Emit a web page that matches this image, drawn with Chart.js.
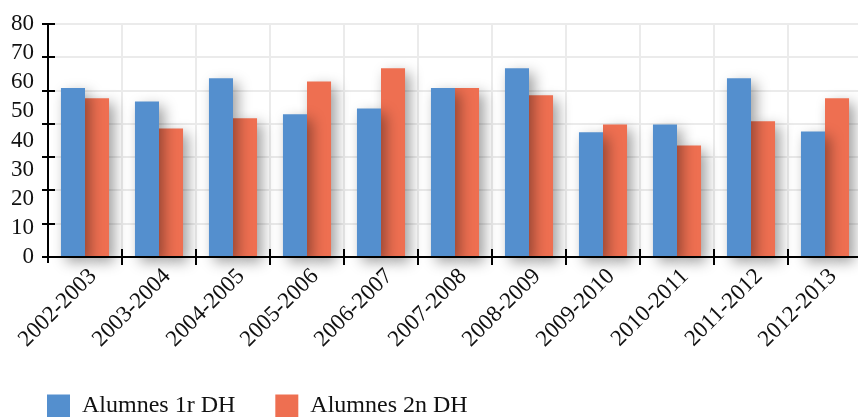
<!DOCTYPE html>
<html>
<head>
<meta charset="utf-8">
<script src="https://cdn.jsdelivr.net/npm/chart.js@4/dist/chart.umd.min.js"></script>
<style>
  html, body { margin: 0; padding: 0; background: #fff; overflow: hidden; }
  #wrap { position: absolute; left: 0; top: 0; width: 858px; height: 417px; overflow: hidden; }
</style>
</head>
<body>
<div id="wrap"><canvas id="chart" width="864" height="428"></canvas></div>
<script>
const cursos = ['2002-2003', '2003-2004', '2004-2005', '2005-2006', '2006-2007', '2007-2008',
  '2008-2009', '2009-2010', '2010-2011', '2011-2012', '2012-2013'];
const alumnes1r = [58, 53.4, 61.4, 49, 51, 58, 64.8, 42.8, 45.5, 61.4, 43.1];
const alumnes2n = [54.5, 44.1, 47.6, 60.3, 64.8, 58, 55.5, 45.5, 38.3, 46.6, 54.5];
const yLabels = [0, 10, 20, 30, 40, 50, 60, 70, 80];
const gridSteps = 7; // the grid of the original has 7 bands, not 8

const serif = '"Liberation Serif", "DejaVu Serif", serif';

// soft shadow behind the bars
const barShadow = {
  id: 'barShadow',
  beforeDatasetsDraw(chart) {
    const ctx = chart.ctx;
    ctx.save();
    ctx.shadowColor = 'rgba(0,0,0,0.38)';
    ctx.shadowBlur = 14;
    ctx.shadowOffsetX = 5;
    ctx.shadowOffsetY = 5;
  },
  afterDatasetsDraw(chart) {
    chart.ctx.restore();
  }
};

// black axes with ticks crossing the line
const blackAxes = {
  id: 'blackAxes',
  afterDraw(chart) {
    const ctx = chart.ctx;
    const area = chart.chartArea;
    const x = chart.scales.x;
    const g = chart.scales.yGrid;
    ctx.save();
    ctx.strokeStyle = '#000';
    ctx.lineWidth = 2;
    ctx.beginPath();
    ctx.moveTo(area.left, area.top);
    ctx.lineTo(area.left, area.bottom + 6);
    ctx.moveTo(area.left - 6, area.bottom);
    ctx.lineTo(area.right, area.bottom);
    g.ticks.forEach(t => {
      const py = Math.round(g.getPixelForValue(t.value));
      ctx.moveTo(area.left - 6, py);
      ctx.lineTo(area.left + 7, py);
    });
    const w = x.getPixelForValue(1) - x.getPixelForValue(0);
    for (let i = 1; i <= cursos.length; i++) {
      const px = Math.round(x.getPixelForValue(i) - w / 2);
      ctx.moveTo(px, area.bottom - 8);
      ctx.lineTo(px, area.bottom + 8);
    }
    ctx.stroke();
    ctx.restore();
  }
};

new Chart(document.getElementById('chart'), {
  type: 'bar',
  data: {
    labels: cursos,
    datasets: [
      { label: 'Alumnes 1r DH', data: alumnes1r, backgroundColor: '#548fce', clip: false,
        categoryPercentage: 0.65, barPercentage: 1 },
      { label: 'Alumnes 2n DH', data: alumnes2n, backgroundColor: '#ee6f51', clip: false,
        categoryPercentage: 0.65, barPercentage: 1 }
    ]
  },
  options: {
    responsive: false,
    animation: false,
    devicePixelRatio: 1,
    layout: { padding: { left: 7, right: 2, top: 24 } },
    plugins: {
      tooltip: { enabled: false },
      legend: {
        position: 'bottom',
        align: 'start',
        labels: {
          font: { family: serif, size: 24 },
          color: '#111',
          boxWidth: 23,
          boxHeight: 23,
          padding: 40
        }
      }
    },
    scales: {
      x: {
        grid: { offset: true, color: '#ebebeb', lineWidth: 2, drawTicks: false },
        border: { display: false },
        ticks: {
          font: { family: serif, size: 23 },
          color: '#111',
          autoSkip: false,
          minRotation: 45,
          maxRotation: 45,
          labelOffset: 8,
          padding: 6
        },
        afterFit(s) { s.height = 97; }
      },
      y: {
        min: 0,
        max: 80,
        position: 'left',
        grid: { display: false, drawTicks: false },
        border: { display: false },
        afterBuildTicks(s) { s.ticks = yLabels.map(v => ({ value: v })); },
        ticks: { font: { family: serif, size: 23 }, color: '#111', padding: 14, autoSkip: false },
        afterFit(s) { s.width = 41; s.paddingTop = 0; s.paddingBottom = 0; }
      },
      yGrid: {
        min: 0,
        max: 80,
        position: 'left',
        grid: { color: '#ebebeb', lineWidth: 2, drawTicks: false },
        border: { display: false },
        afterBuildTicks(s) {
          const t = [];
          for (let i = 0; i <= gridSteps; i++) t.push({ value: 80 * i / gridSteps });
          s.ticks = t;
        },
        ticks: { display: false },
        afterFit(s) { s.width = 0; s.paddingTop = 0; s.paddingBottom = 0; }
      }
    }
  },
  plugins: [barShadow, blackAxes]
});
</script>
</body>
</html>
